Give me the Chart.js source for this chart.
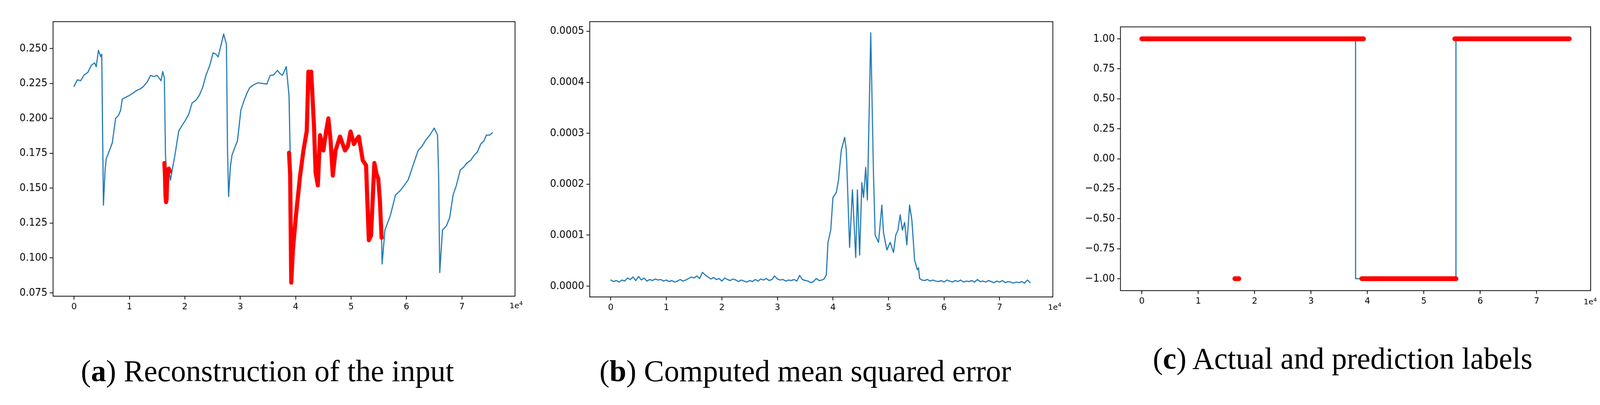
<!DOCTYPE html>
<html><head><meta charset="utf-8">
<script src="https://cdn.jsdelivr.net/npm/chart.js@4"></script>
<style>
html,body{margin:0;padding:0;background:#fff;overflow:hidden}
#wrap{position:absolute;left:0;top:0;width:4284px;height:1038px;transform-origin:0 0;font-family:"DejaVu Sans",sans-serif}
canvas{position:absolute;top:0}
.cap{position:absolute;font-family:"Liberation Serif",serif;font-size:81px;color:#000;white-space:nowrap;transform:translate(-50%,-50%)}
.exp{position:absolute;font-size:21px;color:#000;font-family:"DejaVu Sans",sans-serif}
</style></head><body>
<div id="wrap">
<canvas id="ca" width="1400" height="900" style="left:0"></canvas>
<canvas id="cb" width="1400" height="900" style="left:1450px"></canvas>
<canvas id="cc" width="1434" height="900" style="left:2850px"></canvas>
<div class="cap" style="left:716px;top:995px">(<b>a</b>) Reconstruction of the input</div>
<div class="cap" style="left:2156px;top:995px">(<b>b</b>) Computed mean squared error</div>
<div class="cap" style="left:3595px;top:962px">(<b>c</b>) Actual and prediction labels</div>
<div class="exp" style="left:1364px;top:804px">1e<sup style="font-size:15px">4</sup></div>
<div class="exp" style="left:2806px;top:808px">1e<sup style="font-size:15px">4</sup></div>
<div class="exp" style="left:4240px;top:794px">1e<sup style="font-size:15px">4</sup></div>
</div>
<script>
const s=window.innerWidth/4284; if(Math.abs(s-1)>0.01) document.getElementById('wrap').style.transform='scale('+s+')';

const xTicks=[0,10000,20000,30000,40000,50000,60000,70000];
const aTicks=[0.075,0.100,0.125,0.150,0.175,0.200,0.225,0.250];
const bTicks=[0,0.0001,0.0002,0.0003,0.0004,0.0005];
const cTicks=[-1,-0.75,-0.5,-0.25,0,0.25,0.5,0.75,1];

// Panel a: reconstruction (blue)
const aX=[0,600,1200,1800,2500,3100,3700,4000,4400,4800,5000,5300,5600,5800,6300,6900,7500,8000,8400,8700,9300,10000,10600,11300,11900,12500,13200,13800,14400,15000,15700,16000,16300,16500,16700,16900,17200,17400,17800,18200,18900,19500,20100,20700,21300,22000,22600,23200,23800,24500,25100,25600,26000,26500,27000,27300,27500,27700,27900,28200,28500,29000,29500,30100,30700,31200,31700,32400,33200,34000,34800,35400,36000,36700,37200,37600,38300,
 38800,39000,39200,39500,40100,40800,41400,42000,42300,42800,43300,43600,44000,44400,45000,45500,45900,46300,46700,47200,48000,48900,49900,50500,51400,52100,52700,53200,53600,54200,54900,55200,55500,
 55600,56100,57100,58000,58800,59600,60300,60900,61500,62100,62800,63400,64200,65000,65600,65800,66000,66500,67200,67800,68400,69000,69700,70300,70900,71600,72200,72800,73400,74000,74400,75000,75500];
const aY=[0.223,0.2276,0.227,0.231,0.233,0.238,0.2398,0.237,0.2487,0.2443,0.246,0.1378,0.163,0.171,0.176,0.1825,0.200,0.202,0.2058,0.2138,0.215,0.2165,0.218,0.220,0.221,0.2228,0.226,0.2308,0.2300,0.2308,0.227,0.2335,0.229,0.174,0.161,0.158,0.161,0.1557,0.165,0.1735,0.191,0.195,0.1986,0.203,0.211,0.213,0.2165,0.222,0.2308,0.238,0.247,0.246,0.244,0.252,0.2604,0.256,0.2532,0.177,0.144,0.165,0.1735,0.179,0.184,0.2058,0.213,0.218,0.222,0.224,0.2255,0.2250,0.2246,0.2308,0.231,0.2344,0.2320,0.2308,0.2371,
 0.2165,0.1754,0.0823,0.1056,0.1324,0.159,0.177,0.191,0.2335,0.2335,0.195,0.161,0.152,0.188,0.177,0.191,0.200,0.184,0.159,0.177,0.187,0.177,0.1906,0.1816,0.187,0.170,0.1664,0.1127,0.116,0.168,0.157,0.141,0.1145,
 0.0957,0.120,0.1306,0.145,0.148,0.152,0.156,0.163,0.170,0.177,0.180,0.184,0.188,0.193,0.188,0.159,0.0895,0.120,0.123,0.129,0.145,0.152,0.163,0.165,0.168,0.170,0.1735,0.176,0.1816,0.184,0.188,0.188,0.1897];
// Panel a: anomalous reconstruction (red)
const rX=[16300,16400,16500,16600,16700,16800,16900,17100,17300,null,38800,39000,39200,39500,40100,40800,41400,42000,42300,42600,42800,43300,43600,44000,44400,45000,45500,45900,46300,46700,47200,48000,48900,49400,49900,50500,51000,51400,52100,52700,53200,53600,54200,54600,54900,55200,55500];
const rY=[0.168,0.160,0.145,0.140,0.142,0.155,0.163,0.164,0.162,null,0.1754,0.160,0.0823,0.1056,0.1324,0.159,0.177,0.191,0.2335,0.225,0.2335,0.195,0.161,0.152,0.188,0.177,0.191,0.200,0.184,0.159,0.177,0.187,0.177,0.180,0.1906,0.1816,0.185,0.187,0.170,0.1664,0.1127,0.116,0.168,0.160,0.157,0.141,0.1145];

// Panel b: MSE
const bX=[0,500,1000,1500,2000,2500,3000,3500,4000,4500,5000,5500,6000,6500,7000,7500,8000,8500,9000,9500,10000,10500,11000,11500,12000,12500,13000,13500,14000,14500,15000,15500,16000,16500,17000,17500,18000,18500,19000,19500,20000,20500,21000,21500,22000,22500,23000,23500,24000,24500,25000,25500,26000,26500,27000,27500,28000,28500,29000,29500,30000,30500,31000,31500,32000,32500,33000,33500,34000,34500,35000,35500,36000,36500,37000,37500,38000,38400,38800,39100,39600,40000,40600,41000,41500,42100,42400,43000,43500,44100,44400,44800,45200,45500,45900,46200,46800,47300,47600,48200,48800,49100,49700,50300,50900,51300,51700,52100,52500,52900,53300,53800,54200,54700,55200,55400,55600,56000,56500,57000,57500,58000,58500,59000,59500,60000,60500,61000,61500,62000,62500,63000,63500,64000,64500,65000,65500,66000,66500,67000,67500,68000,68500,69000,69500,70000,70500,71000,71500,72000,72500,73000,73500,74000,74500,75000,75500];
const bY=[1.2e-5,0.9e-5,1.1e-5,0.8e-5,1.2e-5,1.0e-5,1.6e-5,1.3e-5,1.8e-5,1.1e-5,1.9e-5,1.2e-5,1.6e-5,1.0e-5,1.3e-5,1.1e-5,1.4e-5,1.2e-5,1.3e-5,1.0e-5,1.2e-5,0.9e-5,1.1e-5,0.8e-5,1.0e-5,1.3e-5,1.0e-5,1.2e-5,1.5e-5,1.8e-5,1.6e-5,2.0e-5,1.5e-5,2.7e-5,2.2e-5,1.8e-5,1.4e-5,1.7e-5,1.3e-5,1.5e-5,1.0e-5,1.6e-5,1.3e-5,1.1e-5,1.4e-5,1.2e-5,0.9e-5,1.2e-5,1.0e-5,0.8e-5,1.1e-5,0.9e-5,1.3e-5,1.0e-5,1.4e-5,1.2e-5,1.5e-5,1.1e-5,1.3e-5,2.0e-5,1.4e-5,1.2e-5,1.3e-5,1.0e-5,1.2e-5,1.1e-5,1.3e-5,1.0e-5,2.1e-5,1.3e-5,1.1e-5,1.0e-5,0.7e-5,0.9e-5,1.5e-5,1.1e-5,1.2e-5,1.4e-5,2.2e-5,8.6e-5,1.1e-4,1.74e-4,1.84e-4,2.08e-4,2.67e-4,2.92e-4,2.67e-4,7.6e-5,1.89e-4,5.6e-5,1.89e-4,6.1e-5,2.03e-4,1.74e-4,2.33e-4,1.69e-4,4.97e-4,2.18e-4,1.0e-4,8.6e-5,1.59e-4,1.05e-4,7.1e-5,8.6e-5,6.6e-5,1.0e-4,1.1e-4,1.4e-4,1.1e-4,1.25e-4,8.1e-5,1.59e-4,1.3e-4,5.1e-5,3.2e-5,3.6e-5,1.5e-5,1.2e-5,1.1e-5,1.3e-5,1.0e-5,1.2e-5,1.0e-5,0.9e-5,1.1e-5,0.8e-5,1.2e-5,1.0e-5,0.8e-5,1.1e-5,0.9e-5,1.2e-5,0.8e-5,1.0e-5,0.9e-5,1.1e-5,0.8e-5,1.3e-5,0.9e-5,1.0e-5,0.8e-5,1.1e-5,0.9e-5,0.7e-5,1.0e-5,0.8e-5,1.1e-5,0.7e-5,0.9e-5,0.8e-5,0.6e-5,0.8e-5,0.7e-5,0.9e-5,0.6e-5,1.2e-5,0.7e-5];

// Panel c: actual (blue step) and predicted (red) labels
const cActX=[0,37900,37900,55700,55700,75800];
const cActY=[1,1,-1,-1,1,1];
const cPredX=[0,39300,null,16500,17200,null,39000,55700,null,55500,75800];
const cPredY=[1,1,null,-1,-1,null,-1,-1,null,1,1];

const zip=(xs,ys)=>xs.map((x,i)=>x===null?{x:NaN,y:null}:{x,y:ys[i]});
const BLUE='#1f77b4', RED='#ff0000';
const boxPlugin={id:'box',afterDraw(c){const a=c.chartArea,g=c.ctx;g.save();g.strokeStyle='#000';g.lineWidth=2;g.strokeRect(a.left,a.top,a.right-a.left,a.bottom-a.top);g.restore();}};

function make(id,datasets,yMin,yMax,yT,fmt,yW,xH,pad){
  new Chart(document.getElementById(id),{
    type:'scatter',
    data:{datasets},
    options:{responsive:false,animation:false,devicePixelRatio:1,
      layout:{padding:{top:pad.top,right:pad.right,left:0,bottom:0}},
      plugins:{legend:{display:false},tooltip:{enabled:false}},
      elements:{point:{radius:0}},
      scales:{
        x:{type:'linear',min:-3790,max:79590,
          afterBuildTicks:s=>{s.ticks=xTicks.map(v=>({value:v}));},
          afterFit:s=>{s.height=xH;},
          grid:{display:true,drawOnChartArea:false,color:'#000',tickLength:9,lineWidth:2},
          border:{display:false},
          ticks:{color:'#000',font:{size:23,family:'DejaVu Sans'},padding:6,maxRotation:0,callback:v=>String(v/10000)}},
        y:{type:'linear',min:yMin,max:yMax,
          afterBuildTicks:s=>{s.ticks=yT.map(v=>({value:v}));},
          afterFit:s=>{s.width=yW;},
          grid:{display:true,drawOnChartArea:false,color:'#000',tickLength:9,lineWidth:2},
          border:{display:false},
          ticks:{color:'#000',font:{size:29,family:'DejaVu Sans Condensed, DejaVu Sans'},padding:6,callback:fmt}}
      }},
    plugins:[boxPlugin]
  });
}
const line=(d,col,w,o)=>({data:d,order:o,showLine:true,borderColor:col,borderWidth:w,pointRadius:0,spanGaps:false,fill:false,borderCapStyle:'round',borderJoinStyle:'round'});

make('ca',[line(zip(rX,rY),RED,11,0),line(zip(aX,aY),BLUE,3,1)],0.0726,0.2693,aTicks,v=>v.toFixed(3),142,106,{top:58,right:21});
make('cb',[line(zip(bX,bY),BLUE,3,0)],-0.0000212,0.000519,bTicks,v=>v.toFixed(4),129,104,{top:58,right:31});
make('cc',[line(zip(cPredX,cPredY),RED,13,0),line(zip(cActX,cActY),BLUE,3,1)],-1.0995,1.0995,cTicks,v=>(v<0?'\u2212':'')+Math.abs(v).toFixed(2),150,121,{top:72,right:25});
</script></body></html>
